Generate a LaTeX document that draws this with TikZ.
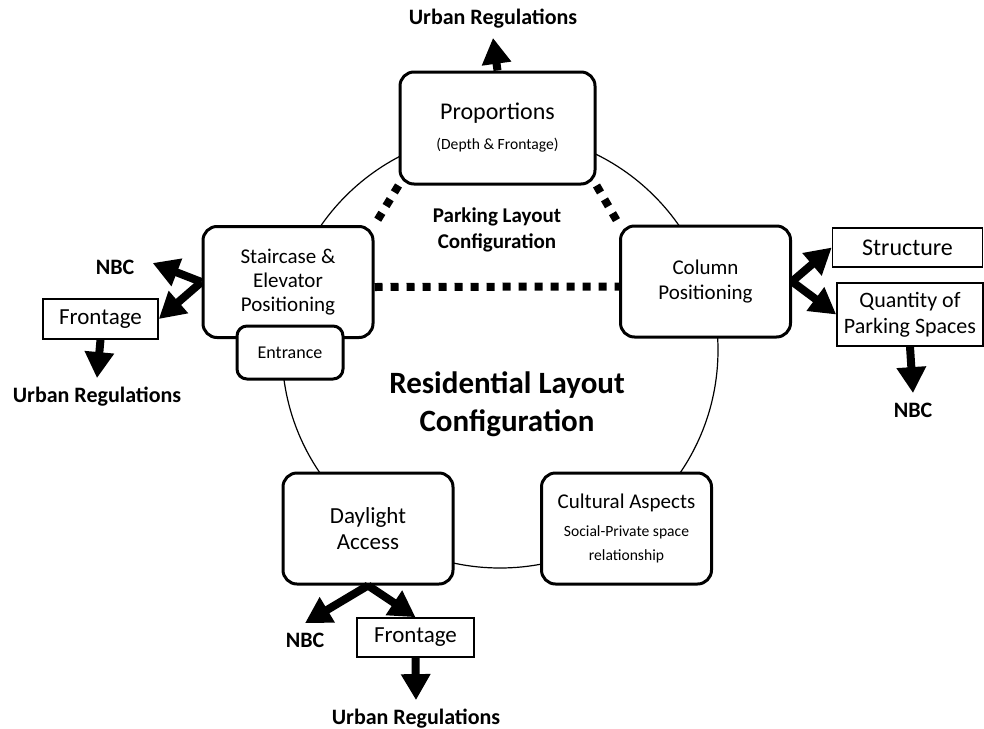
\documentclass[tikz,border=0pt]{standalone}
\usepackage{fontspec}
\setmainfont{Carlito}
\usetikzlibrary{arrows.meta,positioning,calc}

\newcommand{\smalltxt}{\fontsize{7.8}{9.5}\selectfont}

\begin{document}
\begin{tikzpicture}[
  x=0.5pt, y=-0.5pt,
  font=\fontsize{11}{13}\selectfont,
  box/.style={draw, rounded corners=7pt, line width=1.5pt, align=center,
    fill=white, inner sep=3pt, minimum width=85pt, minimum height=55.5pt},
  tag/.style={draw, line width=0.8pt, align=center, fill=white, inner sep=2pt},
  lbl/.style={font=\fontsize{11}{13}\selectfont\bfseries, inner xsep=2pt,
    inner ysep=4pt, text height=8pt, text depth=2.5pt},
  arr/.style={-{Triangle[length=13pt,width=14pt]}, line width=4pt},
  dots/.style={line width=4pt, dash pattern=on 4pt off 4pt},
  ring/.style={line width=0.6pt}
]
\useasboundingbox (0,0) rectangle (984,728);

% ring behind the boxes
\draw[ring] (500,350) circle[radius=109pt];

\node[box, minimum width=97.5pt, minimum height=56pt,
  font=\fontsize{12}{14}\selectfont] (prop) at (497.5,128)
  {Proportions\\[1pt]{\smalltxt (Depth \& Frontage)}};
\node[box, font=\fontsize{10.5}{11.8}\selectfont] (stair) at (288,282)
  {Staircase \&\\Elevator\\Positioning};
\node[box, rounded corners=5pt, minimum width=53pt, minimum height=26.5pt,
  font=\fontsize{9}{11}\selectfont] (entr) at (290,352.5) {Entrance};
\node[box, font=\fontsize{10.5}{12.5}\selectfont] (col) at (705.5,281.5)
  {Column\\Positioning};
\node[box, font=\fontsize{11.5}{13}\selectfont] (day) at (368,528.5)
  {Daylight\\Access};
\node[box, font=\fontsize{10.5}{12}\selectfont] (cult) at (626.5,528.5)
  {Cultural Aspects\\[2pt]\smalltxt Social-Private space\\\smalltxt relationship};

% outer boxes
\node[tag, minimum width=75pt, minimum height=19.5pt,
  font=\fontsize{12}{13}\selectfont] (struct) at (907.5,247.5) {Structure};
\node[tag, minimum width=73pt, minimum height=31.5pt] (quant) at (910,314.5)
  {Quantity of\\Parking Spaces};
\node[tag, minimum width=57.5pt, minimum height=20pt,
  font=\fontsize{11.5}{13}\selectfont] (frontL) at (100.5,319) {Frontage};
\node[tag, minimum width=58.5pt, minimum height=19.5pt,
  font=\fontsize{11.5}{13}\selectfont] (frontB) at (415.5,637.5) {Frontage};

% labels
\node[lbl] (urbT) at (493,19) {Urban Regulations};
\node[lbl] (urbL) at (97,397) {Urban Regulations};
\node[lbl] (urbB) at (416,719) {Urban Regulations};
\node[lbl] (nbcL) at (115,269) {NBC};
\node[lbl] (nbcR) at (913,412) {NBC};
\node[lbl] (nbcB) at (305,642) {NBC};

\node[font=\fontsize{10.5}{13}\selectfont\bfseries, align=center] (park)
  at (497,230) {Parking Layout\\Configuration};
\node[font=\fontsize{15.5}{19}\selectfont\bfseries, align=center] (resi)
  at (507,404) {Residential Layout\\Configuration};

% parking links
\draw[dots] (prop.south west) -- (stair.north east);
\draw[dots] (prop.south east) -- (col.north west);
\draw[dots] ([yshift=-2.5pt]stair.east) -- ([yshift=-2.5pt]col.west);

% arrows
\draw[arr] (prop.north) -- (urbT.south);
\draw[arr] (stair.west) -- ([shift={(14,-6)}]nbcL.east);
\draw[arr] (stair.west) -- (frontL.east);
\draw[arr] (frontL.south) -- (urbL.north);
\draw[arr] (col.east) -- (struct.west);
\draw[arr] (col.east) -- (quant.west);
\draw[arr] (quant.south) -- (nbcR.north);
\draw[arr] (day.south) -- (nbcB.north);
\draw[arr] (day.south) -- (frontB.north);
\draw[arr] (frontB.south) -- (urbB.north);

\end{tikzpicture}
\end{document}
